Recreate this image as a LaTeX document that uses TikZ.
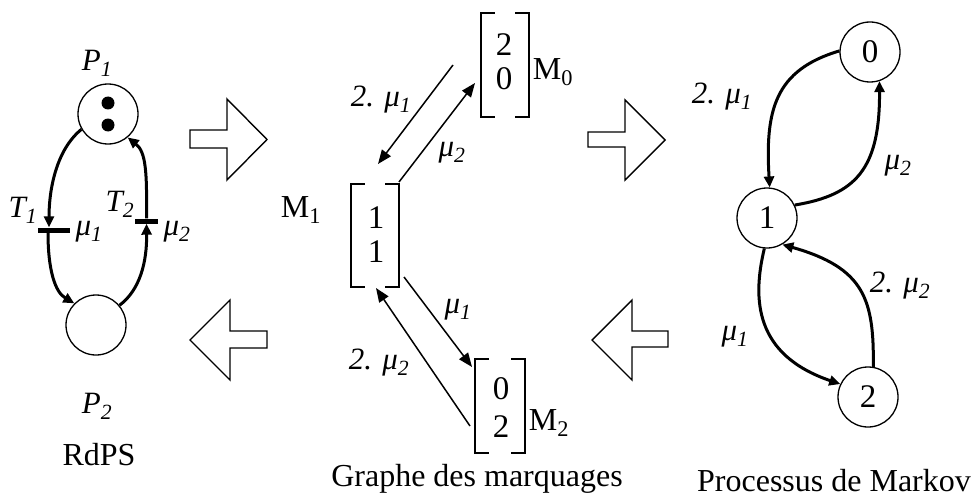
\documentclass[tikz,border=0pt]{standalone}
\usepackage{fontspec}
\setmainfont{Liberation Serif}
\usetikzlibrary{arrows.meta}
\newcommand{\mmu}[1]{μ\textsubscript{#1}}
\begin{document}
\begin{tikzpicture}[x=1pt,y=-1pt,
  txt/.style={font=\fontsize{32}{38}\selectfont, inner sep=0pt},
  lbl/.style={font=\fontsize{31}{34}\selectfont\itshape, inner sep=0pt},
  place/.style={circle, draw, line width=1.3pt, minimum size=60pt, inner sep=0pt},
  tbar/.style={fill=black, inner sep=0pt, minimum height=5pt},
  tok/.style={circle, fill=black, minimum size=13pt, inner sep=0pt},
  pnarc/.style={line width=3pt, -{Triangle[length=11pt,width=10pt]}},
  mkarc/.style={line width=1.5pt, -{Triangle[length=14pt,width=11pt]}},
  bigarrow/.style={draw, line width=1.4pt, fill=white, line join=miter},
  brk/.style={line width=1.5pt},
  markbox/.style={inner sep=0pt, minimum width=48pt},
  digit/.style={font=\fontsize{33}{38}\selectfont, inner sep=0pt}
]
\useasboundingbox (0,0) rectangle (973,500);

% ---------------- Petri net ----------------
\node[place] (p1) at (108,114) {};
\node[tok] (k1) at (108,103) {};
\node[tok] (k2) at (108,125) {};
\node[place] (p2) at (96,325) {};
\node[lbl] (lp1) at (97,63) {P\textsubscript{1}};
\node[lbl] (lp2) at (97,406) {P\textsubscript{2}};
\node[tbar, minimum width=32pt] (t1) at (54,230) {};
\node[tbar, minimum width=23pt] (t2) at (146.5,221) {};
\node[lbl] (lt1) at (23,210) {T\textsubscript{1}};
\node[lbl] (lt2) at (120,204) {T\textsubscript{2}};
\node[lbl] (lm1) at (89,232) {\mmu{1}};
\node[lbl] (lm2) at (177,232) {\mmu{2}};
\node[txt] (rdps) at (99,455) {RdPS};

\draw[pnarc] (p1.210) .. controls (56,150) and (49,190) .. ([xshift=-5pt]t1.north);
\draw[pnarc] ([xshift=-6pt]t1.south) .. controls (48,270) and (55,292) .. (p2.135);
\draw[pnarc] (p2.40) .. controls (140,290) and (147,262) .. (t2.south);
\draw[pnarc] (t2.north) .. controls (147,172) and (146,152) .. (p1.-50);

% ---------------- big hollow arrows ----------------
\draw[bigarrow] (190,130) -- (227,130) -- (227,99) -- (267,139.5) -- (227,180) -- (227,148) -- (190,148) -- cycle;
\draw[bigarrow] (267,331) -- (230,331) -- (230,300) -- (190,340) -- (230,380) -- (230,348) -- (267,348) -- cycle;
\draw[bigarrow] (588,132) -- (625,132) -- (625,100) -- (665,140) -- (625,180) -- (625,147) -- (588,147) -- cycle;
\draw[bigarrow] (668,331) -- (632,331) -- (632,300) -- (592,340) -- (632,380) -- (632,347) -- (668,347) -- cycle;

% ---------------- marking graph ----------------
\node[markbox, minimum height=104pt] (m0) at (505,65) {};
\node[markbox, minimum height=103pt] (m1) at (375,235.5) {};
\node[markbox, minimum width=50pt, minimum height=94pt] (m2) at (500,406) {};
\foreach \m in {m0,m1,m2}{
  \draw[brk] ([xshift=14pt]\m.north west) -| (\m.south west) -- ++(14,0);
  \draw[brk] ([xshift=-14pt]\m.north east) -| (\m.south east) -- ++(-14,0);
}
\node[digit] (d0a) at (504,45) {2};
\node[digit] (d0b) at (504,79) {0};
\node[digit] (d1a) at (376,218) {1};
\node[digit] (d1b) at (376,252) {1};
\node[digit] (d2a) at (501,389) {0};
\node[digit] (d2b) at (501,427) {2};
\node[txt] (lm0) at (553,72) {M\textsubscript{0}};
\node[txt] (lM1) at (301,210) {M\textsubscript{1}};
\node[txt] (lM2) at (549,423) {M\textsubscript{2}};

\coordinate (a0) at (453,65);
\coordinate (a1) at (378,164);
\coordinate (b0) at (399,182);
\coordinate (b1) at (475,83);
\coordinate (c0) at (404,277);
\coordinate (c1) at (472,367);
\coordinate (d0) at (470,426);
\coordinate (d1) at (376,288);
\draw[mkarc] (a0) -- (a1);
\draw[mkarc] (b0) -- (b1);
\draw[mkarc] (c0) -- (c1);
\draw[mkarc] (d0) -- (d1);
\node[lbl] (la) at (381,100) {2. \mmu{1}};
\node[lbl] (lb) at (452,153) {\mmu{2}};
\node[lbl] (lc) at (458,310) {\mmu{1}};
\node[lbl] (ld) at (379,363) {2. \mmu{2}};
\node[txt] (gm) at (477,479) {Graphe des marquages};

% ---------------- Markov process ----------------
\node[place, font=\fontsize{33}{38}\selectfont] (n0) at (870,52) {0};
\node[place, font=\fontsize{33}{38}\selectfont] (n1) at (767,218) {1};
\node[place, font=\fontsize{33}{38}\selectfont] (n2) at (868,397) {2};
\draw[pnarc] (n0.178) .. controls (775,70) and (765,110) .. (n1.85);
\draw[pnarc] (n1.25) .. controls (855,195) and (880,170) .. (n0.-72);
\draw[pnarc] (n1.-95) .. controls (752,300) and (755,355) .. (n2.155);
\draw[pnarc] (n2.80) .. controls (874,300) and (865,268) .. (n1.-60);
\node[lbl] (lx1) at (722,97) {2. \mmu{1}};
\node[lbl] (lx2) at (898,166) {\mmu{2}};
\node[lbl] (lx3) at (900,286) {2. \mmu{2}};
\node[lbl] (lx4) at (735,337) {\mmu{1}};
\node[txt] (pm) at (834,481) {Processus de Markov};
\end{tikzpicture}
\end{document}
